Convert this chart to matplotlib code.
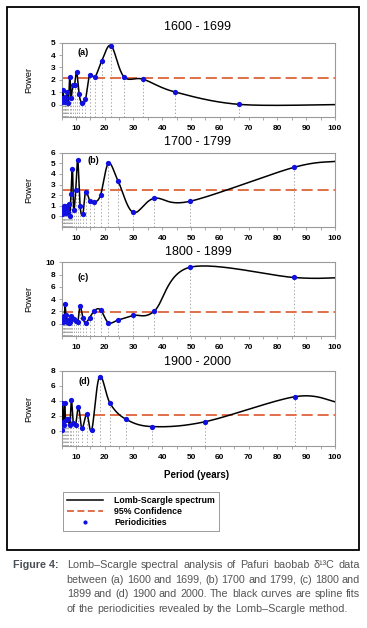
import numpy as np
import matplotlib
matplotlib.use("Agg")
import matplotlib.pyplot as plt
import matplotlib.patches as mpatches
from matplotlib.lines import Line2D
from matplotlib import font_manager as fm

plt.rcParams['font.family'] = ['Liberation Sans', 'DejaVu Sans']
plt.rcParams['lines.scale_dashes'] = False

# ---- data ----
titles = ["1600 - 1699", "1700 - 1799", "1800 - 1899", "1900 - 2000"]
panel_tags = ["(a)", "(b)", "(c)", "(d)"]

period_a = [5.13, 5.33, 5.56, 5.80, 6.06, 6.35, 6.67, 7.02, 7.41, 7.84, 8.33, 8.89, 9.52,
            10.26, 11.11, 12.12, 13.33, 14.81, 16.67, 19.05, 22.22, 26.67, 33.33, 44.44, 66.67]
power_a = [0.2, 0.5, 1.22, 0.3, 0.6, 0.2, 0.5, 1.05, 0.1, 2.25, 0.55, 1.6, 1.6,
           2.65, 0.83, 0.1, 0.43, 2.4, 2.25, 3.55, 4.76, 2.25, 2.05, 1.02, 0.02]

period_b = [5.14, 5.32, 5.52, 5.74, 5.97, 6.23, 6.5, 6.8, 7.13, 7.5, 7.9, 8.3, 8.8, 9.25,
            9.95, 10.65, 11.45, 12.4, 13.4, 14.8, 16.45, 18.55, 21.3, 24.7, 29.85, 37.2, 49.6, 85.6]
power_b = [0.2, 0.8, 0.3, 1.0, 0.5, 1.0, 0.3, 0.8, 0.4, 1.2, 0.0, 2.1, 4.45, 0.6,
           2.5, 5.28, 1.0, 0.19, 2.34, 1.49, 1.33, 2.0, 5.0, 3.3, 0.38, 1.7, 1.42, 4.61]

period_c = period_b
power_c = [1.0, 0.6, 0.2, 1.3, 0.4, 3.27, 1.5, 0.2, 0.6, 0.1, 0.3, 1.3, 1.0, 0.7,
           0.42, 0.2, 2.84, 1.0, 0.16, 1.0, 2.15, 2.28, 0.16, 0.6, 1.34, 2.04, 9.19, 7.53]

period_d = [5.07, 5.3, 5.55, 5.8, 6.05, 6.4, 6.8, 7.25, 7.9, 8.45, 9.1, 9.9, 10.9, 12.1,
            13.8, 15.5, 18.2, 21.9, 27.3, 36.5, 54.7, 86.2]
power_d = [0.14, 3.77, 1.2, 0.82, 3.77, 1.5, 1.55, 1.6, 0.8, 4.08, 1.13, 0.82, 3.22, 0.36,
           2.27, 0.14, 7.26, 3.67, 1.59, 0.59, 1.22, 4.58]

power_at_100 = [0.0, 5.18, 7.47, 3.9]       # end of spline curve at period 100
confidence = [2.11, 2.53, 1.87, 2.18]       # 95% confidence level
y_limits = [(-1, 5), (-1, 6), (-2, 10), (-2, 8)]
y_step = [1, 1, 2, 2]

periods = [period_a, period_b, period_c, period_d]
powers = [power_a, power_b, power_c, power_d]

caption_head = "Figure 4:"
caption_lines = [
    "Lomb\u2013Scargle spectral analysis of Pafuri baobab \u03b4\u00b9\u00b3C data",
    "between (a) 1600 and 1699, (b) 1700 and 1799, (c) 1800 and",
    "1899 and (d) 1900 and 2000. The black curves are spline fits",
    "of the periodicities revealed by the Lomb\u2013Scargle method.",
]

BLUE = '#1010e0'
ORANGE = '#e0704a'
GREY = '#9a9a9a'


def smooth(xs, ys, n=30):
    # Excel-like smoothed line: cubic Bezier through the points
    P = np.column_stack([xs, ys])
    out = [P[:1]]
    t = np.linspace(0, 1, n)[1:, None]
    for i in range(len(P) - 1):
        p0 = P[i - 1] if i > 0 else P[i]
        p1, p2 = P[i], P[i + 1]
        p3 = P[i + 2] if i + 2 < len(P) else P[i + 1]
        b1 = p1 + (p2 - p0) / 6
        b2 = p2 - (p3 - p1) / 6
        seg = (1 - t) ** 3 * p1 + 3 * (1 - t) ** 2 * t * b1 + 3 * (1 - t) * t ** 2 * b2 + t ** 3 * p2
        out.append(seg)
    return np.vstack(out)


def has_font(name):
    try:
        fm.findfont(fm.FontProperties(family=name), fallback_to_default=False)
        return True
    except ValueError:
        return False


W, H = 367, 628
fig = plt.figure(figsize=(W / 100, H / 100), dpi=100)

# outer frame
fig.patches.append(mpatches.Rectangle((7 / W, 1 - 550 / H), 352 / W, 543 / H,
                                      transform=fig.transFigure, fill=False,
                                      edgecolor='black', linewidth=1.3))

ax_px = [(42.7, 117), (152.7, 227), (262.3, 336), (371, 446)]
title_y = [27, 142, 252, 362]
tag_pos = [(0.057, 0.87), (0.096, 0.90), (0.058, 0.80), (0.061, 0.86)]

for k in range(4):
    top, bot = ax_px[k]
    ax = fig.add_axes([61.5 / W, 1 - bot / H, 273.5 / W, (bot - top) / H])
    x = np.array(periods[k])
    y = np.array(powers[k])
    lo, hi = y_limits[k]

    ax.vlines(x, lo, y, colors=GREY, linestyles=(0, (1, 1.5)), linewidth=0.6, zorder=1)
    ax.axhline(confidence[k], color=ORANGE, linewidth=1.4, dashes=(8, 3.5), zorder=2)
    curve = smooth(np.append(x, 100), np.append(y, power_at_100[k]))
    ax.plot(curve[:, 0], curve[:, 1], color='black', linewidth=1.1, zorder=3)
    ax.plot(x, y, 'o', color=BLUE, markersize=3.8, markeredgewidth=0, zorder=4)

    ax.set_xlim(5, 100)
    ax.set_ylim(lo, hi)
    ax.set_xticks(np.arange(10, 101, 10))
    ax.set_xticks(np.arange(5, 101, 5), minor=True)
    ax.set_yticks(np.arange(0, hi + 0.1, y_step[k]))
    for s in ax.spines.values():
        s.set_color(GREY)
        s.set_linewidth(0.8)
    ax.tick_params(axis='both', which='both', direction='out', length=2.5, width=0.6,
                   color=GREY, labelsize=6, pad=2)
    ax.tick_params(axis='x', which='both', pad=3.5)
    for lab in ax.get_xticklabels() + ax.get_yticklabels():
        lab.set_fontweight('bold')
    ax.set_ylabel("Power", fontsize=6.6)
    ax.yaxis.set_label_coords(-0.104, 0.5)
    ax.text(tag_pos[k][0], tag_pos[k][1], panel_tags[k], transform=ax.transAxes,
            fontsize=6.5, fontweight='bold', va='center')
    fig.text(198 / W, 1 - title_y[k] / H, titles[k], ha='center', va='center', fontsize=9)
    if k == 3:
        fig.text(197 / W, 1 - 475 / H, "Period (years)", ha='center', va='center',
                 fontsize=7, fontweight='bold')

handles = [Line2D([], [], color='black', linewidth=1.1),
           Line2D([], [], color=ORANGE, linewidth=1.4, dashes=(5, 2.5)),
           Line2D([], [], color=BLUE, marker='o', linestyle='none', markersize=3, markeredgewidth=0)]
labels = ["Lomb-Scargle spectrum", "95% Confidence", "Periodicities"]
leg = fig.legend(handles, labels, loc='upper left', bbox_to_anchor=(62.7 / W, 1 - 491.7 / H),
                 fancybox=False, edgecolor=GREY, framealpha=1, handlelength=4.2,
                 handletextpad=1.2, labelspacing=0.25, borderpad=0.45, borderaxespad=0,
                 prop={'size': 6.3, 'weight': 'bold'})
leg.get_frame().set_linewidth(0.7)

# caption: fit the font size to the line width, then justify
narrow = ['Liberation Sans Narrow'] if has_font('Liberation Sans Narrow') else ['Liberation Sans']
narrow = narrow + ['DejaVu Sans']
renderer = fig.canvas.get_renderer()


def width_px(s, size, **kw):
    t = fig.text(0, 0, s, fontsize=size, family=narrow, **kw)
    w = t.get_window_extent(renderer).width
    t.remove()
    return w


head_size = min(8.6, 10 * 46 / width_px(caption_head, 10, fontweight='bold'))
fig.text(12.7 / W, 1 - 565 / H, caption_head, fontsize=head_size, fontweight='bold',
         color='#4a4f55', family=narrow, va='center', ha='left')

x0, x1 = 66.7, 360
widest = max(width_px(s, 10) for s in caption_lines[:3])
cap_size = min(9.0, 10 * (x1 - x0 - 1) / widest)
line_y = [565, 580, 594.3, 608.5]
space = width_px('a a', cap_size) - width_px('aa', cap_size)
for i, line in enumerate(caption_lines):
    words = line.split(' ')
    texts = [fig.text(0, 1 - line_y[i] / H, w, fontsize=cap_size, color='#555555',
                      family=narrow, va='center', ha='left') for w in words]
    widths = [t.get_window_extent(renderer).width for t in texts]
    if i < len(caption_lines) - 1:
        gap = max(space, (x1 - x0 - sum(widths)) / (len(words) - 1))
    else:
        gap = space
    xp = x0
    for t, w in zip(texts, widths):
        t.set_x(xp / W)
        xp += w + gap

fig.savefig("out.png", dpi=100)
